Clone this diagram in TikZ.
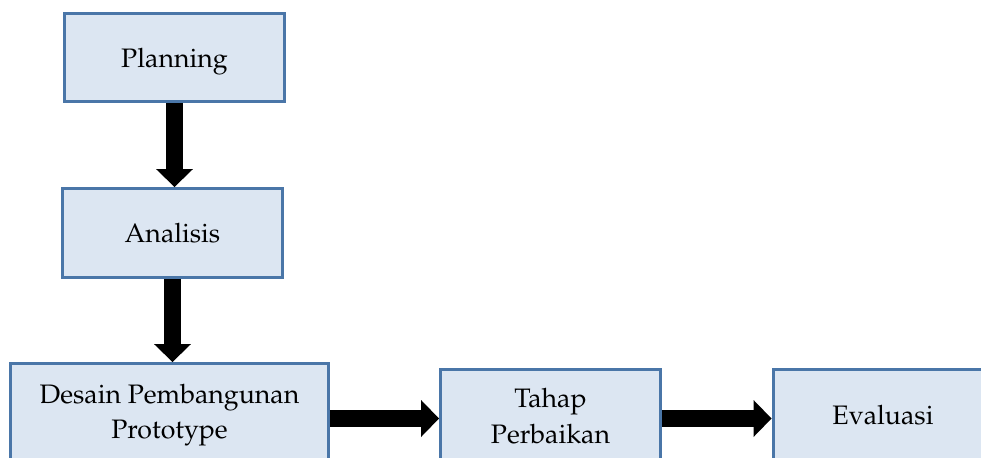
\documentclass[tikz,border=0pt]{standalone}
\usepackage[T1]{fontenc}
\usepackage{mathpazo}
\usetikzlibrary{arrows.meta}

\definecolor{boxfill}{RGB}{220,230,242}
\definecolor{boxline}{RGB}{74,118,168}

\begin{document}
\begin{tikzpicture}[x=0.02cm,y=-0.02cm,
    blockarrow/.style={line width=0.34cm,-{Triangle[width=0.74cm,length=0.36cm,line width=0pt]}}]
            \useasboundingbox (0,0) rectangle (981,457);
            \clip (0,0) rectangle (981,457);
            \begin{scope}[every node/.style={rectangle,draw=boxline,fill=boxfill,line width=1.7pt,
                    minimum width=4.4cm,inner sep=0pt,align=center,text depth=0pt,
                    font=\fontsize{15.2}{20.2}\selectfont}]
                \node[minimum height=1.76cm] (plan) at (174.5,57.5) {Planning};
                \node[minimum height=1.78cm] (anal) at (172.5,233) {Analisis};
                \node[minimum width=6.36cm,minimum height=2.18cm,text depth=0.28cm,
                    font=\fontsize{15.2}{19.9}\selectfont] (desain) at (169.5,418) {Desain Pembangunan\\Prototype};
                \node[minimum height=2.14cm,text depth=0.3cm,
                    font=\fontsize{15.2}{20.5}\selectfont] (tahap) at (550.5,423) {Tahap\\Perbaikan};
                \node[minimum height=2.14cm,text depth=0.34cm] (eval) at (883,423) {Evaluasi};
            \end{scope}
            \coordinate (row) at (0,418.5);
            \draw (plan.south) edge [blockarrow] (plan.south |- anal.north);
            \draw (anal.south) edge [blockarrow] (anal.south |- desain.north);
            \draw (desain.east |- row) edge [blockarrow] (tahap.west |- row);
            \draw (tahap.east |- row) edge [blockarrow] (eval.west |- row);
        \end{tikzpicture}
\end{document}
